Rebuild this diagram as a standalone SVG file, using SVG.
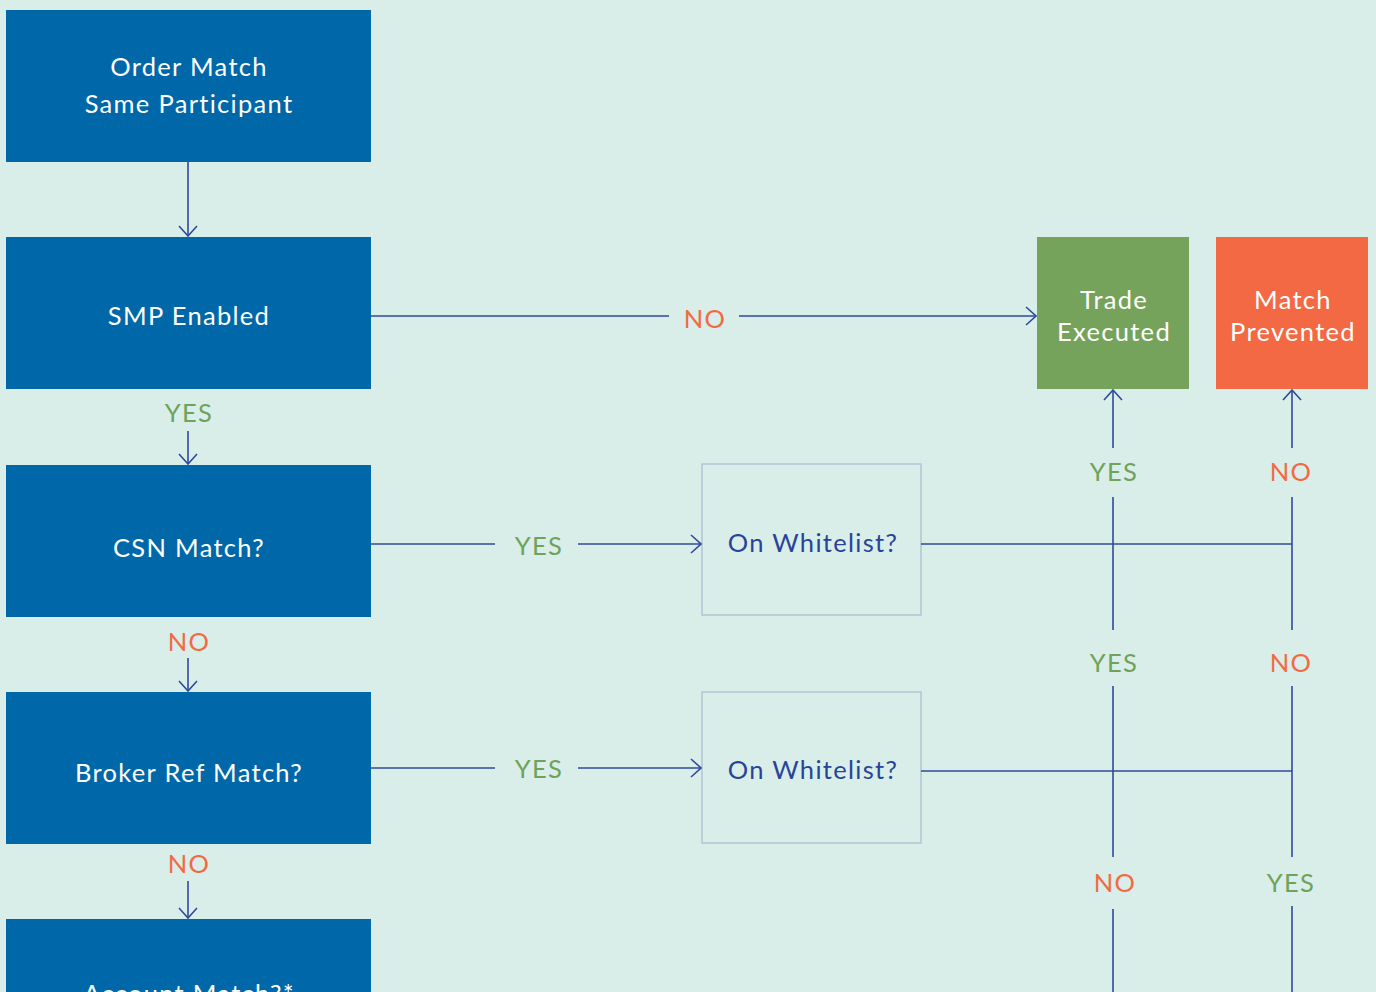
<svg xmlns="http://www.w3.org/2000/svg" width="1376" height="992" viewBox="0 0 1376 992">
<defs>
<marker id="arr" viewBox="0 0 12 20" refX="11" refY="10" markerWidth="12" markerHeight="20" markerUnits="userSpaceOnUse" orient="auto">
<path d="M1,1 L11,10 L1,19" fill="none" stroke="#2E4A9A" stroke-width="1.6"/>
</marker>
<style>
.blue{fill:#0068A8}
.wl{fill:none;stroke:#B3C7D6;stroke-width:1.6}
text{font-family:Lato,"Noto Sans",sans-serif;font-size:25.5px;letter-spacing:1.3px;text-anchor:middle;dominant-baseline:central}
.t{fill:#fff}
.tw{fill:#28449A}
.yes{fill:#6FA25A}
.no{fill:#F26944}
.c{fill:none;stroke:#2E4A9A;stroke-width:1.6}
</style>
</defs>
<rect width="1376" height="992" fill="#DAEEE9"/>
<g id="n-order"><rect class="blue" x="6" y="10" width="365" height="152"/><text class="t" x="189" y="66">Order Match</text><text class="t" x="189" y="103">Same Participant</text></g>
<g id="n-smp"><rect class="blue" x="6" y="237" width="365" height="152"/><text class="t" x="189" y="315">SMP Enabled</text></g>
<g id="n-csn"><rect class="blue" x="6" y="465" width="365" height="152"/><text class="t" x="189" y="547">CSN Match?</text></g>
<g id="n-broker"><rect class="blue" x="6" y="692" width="365" height="152"/><text class="t" x="189" y="772">Broker Ref Match?</text></g>
<g id="n-account"><rect class="blue" x="6" y="919" width="365" height="90"/><text class="t" x="189" y="993">Account Match?*</text></g>
<g id="n-trade"><rect fill="#76A35C" x="1037" y="237" width="152" height="152"/><text class="t" x="1114" y="299">Trade</text><text class="t" x="1114" y="331">Executed</text></g>
<g id="n-prevented"><rect fill="#F26944" x="1216" y="237" width="152" height="152"/><text class="t" x="1293" y="299">Match</text><text class="t" x="1293" y="331">Prevented</text></g>
<g id="n-wl1"><rect class="wl" x="702" y="464" width="219" height="151"/><text class="tw" x="813" y="542">On Whitelist?</text></g>
<g id="n-wl2"><rect class="wl" x="702" y="692" width="219" height="151"/><text class="tw" x="813" y="769">On Whitelist?</text></g>
<g id="connectors">
<path class="c" d="M188,162 V236" marker-end="url(#arr)"/>
<text class="yes" x="189" y="412">YES</text>
<path class="c" d="M188,431 V464" marker-end="url(#arr)"/>
<text class="no" x="189" y="641">NO</text>
<path class="c" d="M188,658 V691" marker-end="url(#arr)"/>
<text class="no" x="189" y="863">NO</text>
<path class="c" d="M188,881 V918" marker-end="url(#arr)"/>
<path class="c" d="M371,316 H669"/>
<text class="no" x="705" y="318">NO</text>
<path class="c" d="M739,316 H1036" marker-end="url(#arr)"/>
<path class="c" d="M371,544 H495"/>
<text class="yes" x="539" y="545">YES</text>
<path class="c" d="M578,544 H701" marker-end="url(#arr)"/>
<path class="c" d="M371,768 H495"/>
<text class="yes" x="539" y="768">YES</text>
<path class="c" d="M578,768 H701" marker-end="url(#arr)"/>
<path class="c" d="M921,544 H1292"/>
<path class="c" d="M921,771 H1292"/>
<path class="c" d="M1113,448 V390" marker-end="url(#arr)"/>
<text class="yes" x="1114" y="471">YES</text>
<path class="c" d="M1113,497 V630"/>
<text class="yes" x="1114" y="662">YES</text>
<path class="c" d="M1113,686 V857"/>
<text class="no" x="1115" y="882">NO</text>
<path class="c" d="M1113,909 V992"/>
<path class="c" d="M1292,448 V390" marker-end="url(#arr)"/>
<text class="no" x="1291" y="471">NO</text>
<path class="c" d="M1292,497 V630"/>
<text class="no" x="1291" y="662">NO</text>
<path class="c" d="M1292,686 V857"/>
<text class="yes" x="1291" y="882">YES</text>
<path class="c" d="M1292,906 V992"/>
</g>
</svg>
